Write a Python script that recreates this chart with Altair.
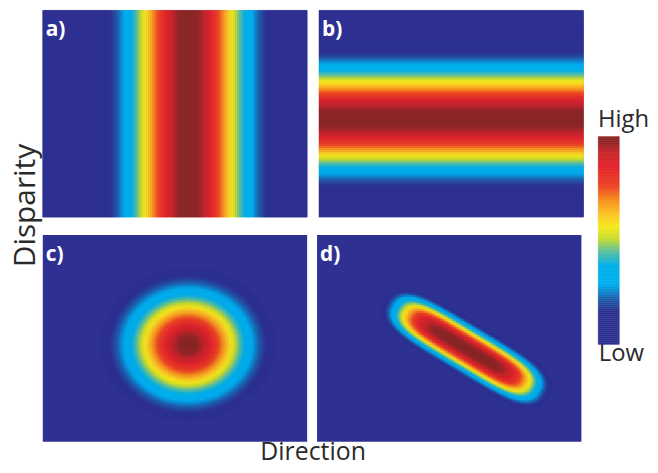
import altair as alt
import numpy as np
import pandas as pd

# ---------------- values ----------------
panel_labels = ["a)", "b)", "c)", "d)"]
# each panel is a grid of 133 x 104 cells (Direction x Disparity)
grid_cols = 133
grid_rows = 104
# Gaussian tuning per panel, in cell units (None = no tuning along that axis)
centre_direction = [73.3, None, 73.2, 75.3]
centre_disparity = [None, 49.5, 49.0, 47.0]
spread_direction = [20.5, None, 20.5, None]
spread_disparity = [None, 17.5, 18.0, None]
# panel d: tuning elongated along an oblique axis
oblique_angle_deg = -31.0
oblique_spread_along = 35.0
oblique_power_along = 4.8
oblique_spread_across = 7.4
oblique_power_across = 2.5

# colour map (value -> colour)
cmap_stops = [0.00, 0.16, 0.22, 0.29, 0.38, 0.45, 0.51, 0.57, 0.63, 0.69, 0.76, 0.86, 0.93, 0.97, 1.00]
cmap_colors = ["#2e3192", "#2e3192", "#1f5fad", "#00aeef", "#00b0ea", "#5ec09c", "#c8dc2c",
               "#f7e91c", "#fbc226", "#f7941d", "#ee4524", "#e3242b", "#c42529", "#952626", "#8b2724"]
colorbar_steps = 104
high_label, low_label = "High", "Low"
x_title, y_title = "Direction", "Disparity"

NAVY = cmap_colors[0]
TEXT = "#2a2a2a"
FONT = "Open Sans"


def tuning(z, c, s, p=2.0):
    return np.exp(-0.5 * (np.abs(z - c) / s) ** p)


cx = np.arange(grid_cols) + 0.5
cy = np.arange(grid_rows) + 0.5
X, Y = np.meshgrid(cx, cy)
XI, YI = np.meshgrid(np.arange(grid_cols), np.arange(grid_rows))

frames = []
# a) tuned to Direction only
va = tuning(cx, centre_direction[0], spread_direction[0])
frames.append(pd.DataFrame({"x0": np.arange(grid_cols), "x1": np.arange(grid_cols) + 1,
                            "y0": 0, "y1": grid_rows, "v": va}))
# b) tuned to Disparity only
vb = tuning(cy, centre_disparity[1], spread_disparity[1])
frames.append(pd.DataFrame({"x0": 0, "x1": grid_cols, "y0": np.arange(grid_rows),
                            "y1": np.arange(grid_rows) + 1, "v": vb}))
# c) separable joint tuning
vc = tuning(X, centre_direction[2], spread_direction[2]) * tuning(Y, centre_disparity[2], spread_disparity[2])
frames.append(pd.DataFrame({"x0": XI.ravel(), "x1": XI.ravel() + 1, "y0": YI.ravel(),
                            "y1": YI.ravel() + 1, "v": vc.ravel()}))
# d) oblique (inseparable) tuning
ang = np.deg2rad(oblique_angle_deg)
dx = X - centre_direction[3]
dy = Y - centre_disparity[3]
u = dx * np.cos(ang) + dy * np.sin(ang)
w = -dx * np.sin(ang) + dy * np.cos(ang)
vd = tuning(u, 0, oblique_spread_along, oblique_power_along) * tuning(w, 0, oblique_spread_across, oblique_power_across)
frames.append(pd.DataFrame({"x0": XI.ravel(), "x1": XI.ravel() + 1, "y0": YI.ravel(),
                            "y1": YI.ravel() + 1, "v": vd.ravel()}))
thresholds = [0.0, 0.0, 0.1, 0.1]

color_scale = alt.Scale(domain=cmap_stops, range=cmap_colors, interpolate="rgb", clamp=True)


def panel(df, label, thr):
    df = df[df["v"] >= thr].round(4)
    heat = alt.Chart(df).mark_rect(strokeWidth=0.6).encode(
        x=alt.X("x0:Q", scale=alt.Scale(domain=[0, grid_cols], nice=False, zero=False), axis=None),
        x2="x1:Q",
        y=alt.Y("y0:Q", scale=alt.Scale(domain=[0, grid_rows], nice=False, zero=False), axis=None),
        y2="y1:Q",
        color=alt.Color("v:Q", scale=color_scale, legend=None),
        stroke=alt.Stroke("v:Q", scale=color_scale, legend=None),
    )
    text = alt.Chart(pd.DataFrame({"label": [label]})).mark_text(
        font=FONT, fontSize=21, fontWeight="bold", color="white", align="left", baseline="alphabetic"
    ).encode(text="label:N", x=alt.value(3), y=alt.value(26))
    return alt.layer(heat, text).properties(
        width=266, height=208, view=alt.ViewBackground(fill=NAVY, stroke=None)
    )


pa, pb, pc, pd_ = [panel(f, l, t) for f, l, t in zip(frames, panel_labels, thresholds)]

row1 = alt.hconcat(pa, pb, spacing=10)
row2 = alt.hconcat(pc, pd_, spacing=10)
grid = alt.vconcat(row1, row2, spacing=17).properties(
    title=alt.TitleParams(x_title, orient="bottom", anchor="middle", font=FONT, fontSize=25,
                          fontWeight="normal", color=TEXT, offset=-2)
)
left = alt.hconcat(grid).properties(
    title=alt.TitleParams(y_title, orient="left", anchor="middle", font=FONT, fontSize=30,
                          fontWeight="normal", color=TEXT, offset=1.7, dx=32)
)

k = np.arange(colorbar_steps)
cb_df = pd.DataFrame({"x0": 0, "x1": 1, "y0": k / colorbar_steps, "y1": (k + 1) / colorbar_steps,
                      "v": (k + 0.5) / colorbar_steps}).round(4)
colorbar = alt.Chart(cb_df).mark_rect(strokeWidth=0.6).encode(
    x=alt.X("x0:Q", scale=alt.Scale(domain=[0, 1], nice=False, zero=False),
            axis=alt.Axis(title=low_label, labels=False, ticks=False, domain=False, grid=False,
                          titleAnchor="start", titleAlign="left", titleFont=FONT, titleFontSize=24,
                          titleFontWeight="normal", titleColor=TEXT, titlePadding=-3)),
    x2="x1:Q",
    y=alt.Y("y0:Q", scale=alt.Scale(domain=[0, 1], nice=False, zero=False), axis=None),
    y2="y1:Q",
    color=alt.Color("v:Q", scale=color_scale, legend=None),
    stroke=alt.Stroke("v:Q", scale=color_scale, legend=None),
).properties(
    width=21, height=209,
    title=alt.TitleParams(high_label, anchor="start", font=FONT, fontSize=24,
                          fontWeight="normal", color=TEXT, offset=4),
    view=alt.ViewBackground(stroke=None),
)

# empty space above the colour bar
spacer = alt.Chart(pd.DataFrame({"s": [0]})).mark_rect(opacity=0).encode(
    x=alt.value(0), x2=alt.value(1), y=alt.value(0), y2=alt.value(1)
).properties(width=21, height=98, view=alt.ViewBackground(stroke=None))

colorcol = alt.vconcat(spacer, colorbar, spacing=0)

chart = alt.hconcat(left, colorcol, spacing=13).properties(
    padding={"left": 2, "top": 0, "right": 0, "bottom": 0},
    background="white",
)

chart.save("out.html", embed_options={"renderer": "svg", "actions": False})
